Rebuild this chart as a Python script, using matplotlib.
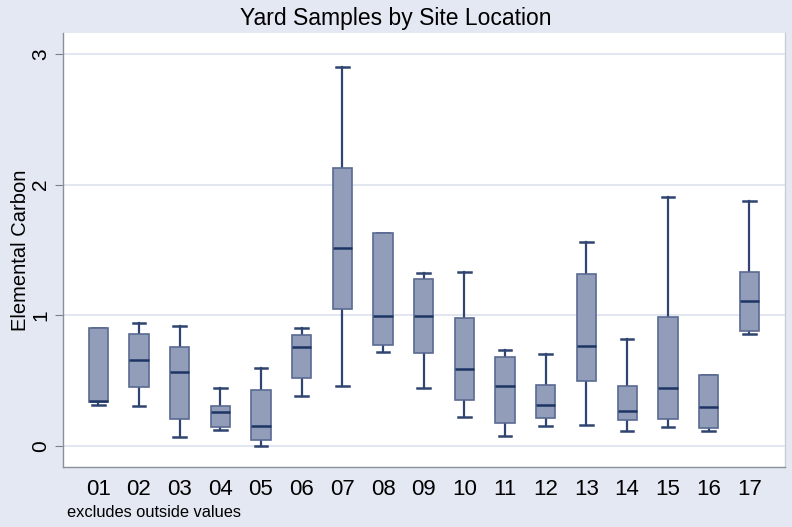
import matplotlib
matplotlib.use("Agg")
import matplotlib.pyplot as plt

plt.rcParams['font.family'] = ['Liberation Sans', 'DejaVu Sans']

sites = ["01", "02", "03", "04", "05", "06", "07", "08", "09",
         "10", "11", "12", "13", "14", "15", "16", "17"]
whis_lo = [0.314, 0.306, 0.066, 0.120, 0.003, 0.385, 0.459, 0.719, 0.446,
           0.222, 0.079, 0.156, 0.163, 0.115, 0.143, 0.117, 0.855]
q1 = [0.339, 0.449, 0.204, 0.148, 0.046, 0.518, 1.046, 0.773, 0.714,
      0.349, 0.179, 0.217, 0.497, 0.202, 0.207, 0.140, 0.882]
med = [0.342, 0.658, 0.564, 0.263, 0.156, 0.760, 1.515, 0.992, 0.997,
       0.592, 0.459, 0.311, 0.763, 0.265, 0.446, 0.298, 1.112]
q3 = [0.900, 0.855, 0.758, 0.309, 0.429, 0.849, 2.125, 1.628, 1.276,
      0.980, 0.684, 0.464, 1.316, 0.462, 0.985, 0.543, 1.329]
whis_hi = [0.900, 0.944, 0.918, 0.441, 0.599, 0.903, 2.898, 1.628, 1.327,
           1.332, 0.737, 0.707, 1.559, 0.819, 1.908, 0.543, 1.875]
yticks = [0, 1, 2, 3]

bg = "#E4E8F2"
fig = plt.figure(figsize=(7.92, 5.27), dpi=100, facecolor=bg)
ax = fig.add_axes([0.0795, 0.1139, 0.9117, 0.8235])
ax.set_facecolor("white")

stats = []
for i in range(len(sites)):
    stats.append(dict(label=sites[i], whislo=whis_lo[i], q1=q1[i], med=med[i],
                      q3=q3[i], whishi=whis_hi[i], fliers=[]))

positions = list(range(1, len(sites) + 1))
ax.bxp(stats, positions=positions, widths=0.475, patch_artist=True,
       showfliers=False,
       boxprops=dict(facecolor="#929DB9", edgecolor="#5A6A92", linewidth=1.2,
                     zorder=3),
       medianprops=dict(color="#1C3563", linewidth=1.8, zorder=4),
       whiskerprops=dict(color="#2F4470", linewidth=1.6, zorder=2),
       capprops=dict(color="#2F4470", linewidth=1.8, zorder=2),
       capwidths=0.31)

ax.set_xlim(0.133, 17.88)
ax.set_ylim(-0.16, 3.16)
ax.set_yticks(yticks)
ax.set_yticklabels([str(t) for t in yticks], rotation=90, va="center",
                   fontsize=15)
ax.tick_params(axis="y", length=6, width=0.8, color="#7A7F88", pad=3)
ax.tick_params(axis="x", length=0, labelsize=16, pad=9)
ax.grid(axis="y", color="#DCE2EE", linewidth=1.2, zorder=0)
ax.set_axisbelow(True)

ax.spines["top"].set_visible(False)
ax.spines["right"].set_color("#C9CDD6")
ax.spines["left"].set_color("#8A8F99")
ax.spines["bottom"].set_color("#8A8F99")
for s in ["left", "bottom", "right"]:
    ax.spines[s].set_linewidth(1.0)

ax.set_ylabel("Elemental Carbon", fontsize=14.5, labelpad=1)
fig.text(0.5, 0.965, "Yard Samples by Site Location", ha="center",
         va="center", fontsize=16.5)
fig.text(0.085, 0.028, "excludes outside values", ha="left", va="center",
         fontsize=11.8)

fig.savefig("out.png", dpi=100, facecolor=bg)
